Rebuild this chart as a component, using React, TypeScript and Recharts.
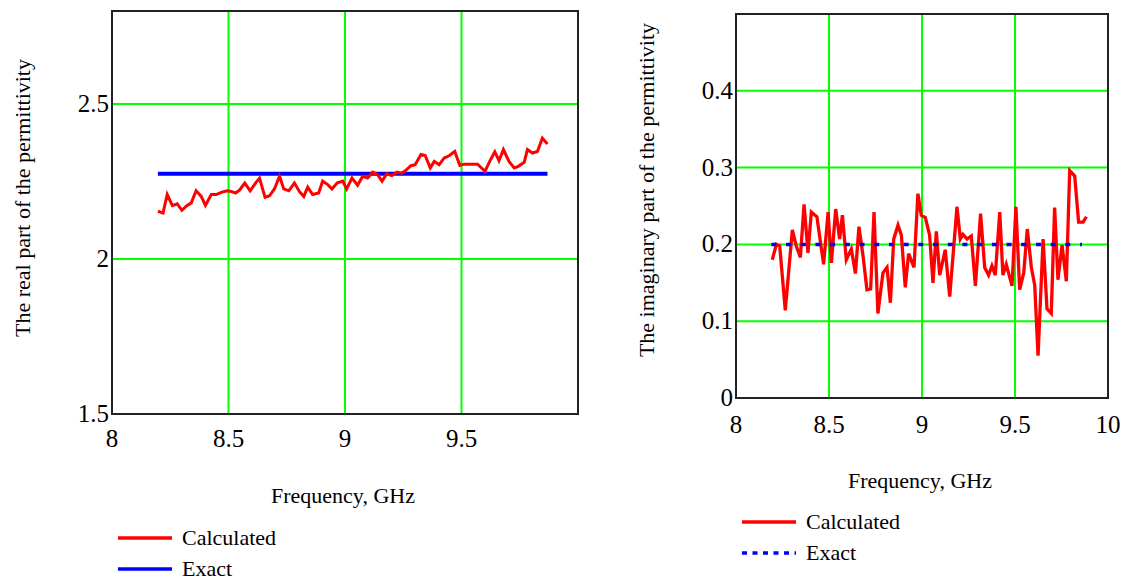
import { LineChart, Line, XAxis, YAxis, CartesianGrid, ReferenceArea, Label } from "recharts"

const serif = "'Liberation Serif', 'Times New Roman', serif"

// real part
const realFreq = [
  8.197, 8.219, 8.237, 8.259, 8.28, 8.3, 8.321, 8.34, 8.361, 8.383, 8.401, 8.426, 8.447, 8.469, 8.493, 8.511,
  8.53, 8.547, 8.57, 8.593, 8.616, 8.633, 8.657, 8.676, 8.697, 8.719, 8.737, 8.759, 8.783, 8.804, 8.823, 8.84,
  8.861, 8.887, 8.904, 8.926, 8.944, 8.966, 8.99, 9.007, 9.03, 9.054, 9.076, 9.097, 9.119, 9.14, 9.159, 9.179,
  9.201, 9.223, 9.244, 9.261, 9.283, 9.301, 9.326, 9.344, 9.366, 9.383, 9.404, 9.426, 9.447, 9.471, 9.493,
  9.511, 9.54, 9.569, 9.601, 9.621, 9.643, 9.661, 9.68, 9.704, 9.726, 9.744, 9.769, 9.783, 9.804, 9.826, 9.847,
  9.869,
]
const realCalc = [
  2.154, 2.148, 2.208, 2.172, 2.178, 2.157, 2.172, 2.181, 2.22, 2.202, 2.173, 2.208, 2.208, 2.215, 2.22, 2.218,
  2.213, 2.222, 2.245, 2.22, 2.245, 2.261, 2.199, 2.204, 2.226, 2.267, 2.226, 2.22, 2.245, 2.218, 2.202, 2.232,
  2.208, 2.213, 2.251, 2.24, 2.226, 2.245, 2.251, 2.226, 2.261, 2.238, 2.267, 2.261, 2.28, 2.272, 2.251, 2.275,
  2.269, 2.28, 2.277, 2.286, 2.301, 2.304, 2.337, 2.334, 2.294, 2.315, 2.304, 2.326, 2.333, 2.347, 2.302,
  2.306, 2.306, 2.306, 2.283, 2.315, 2.346, 2.317, 2.353, 2.315, 2.294, 2.299, 2.312, 2.353, 2.342, 2.347, 2.39,
  2.371,
]
const realExactFreq = [8.197, 9.869]
const realExact = [2.275, 2.275]

// imaginary part
const imagFreq = [
  8.195, 8.217, 8.235, 8.265, 8.303, 8.324, 8.346, 8.366, 8.387, 8.405, 8.435, 8.471, 8.495, 8.513, 8.536,
  8.557, 8.572, 8.593, 8.62, 8.642, 8.661, 8.683, 8.704, 8.724, 8.742, 8.763, 8.79, 8.812, 8.83, 8.848, 8.871,
  8.889, 8.91, 8.928, 8.957, 8.978, 8.996, 9.018, 9.041, 9.059, 9.077, 9.095, 9.125, 9.149, 9.188, 9.206, 9.22,
  9.242, 9.265, 9.287, 9.315, 9.337, 9.358, 9.376, 9.394, 9.418, 9.435, 9.453, 9.484, 9.505, 9.525, 9.547,
  9.566, 9.588, 9.606, 9.624, 9.651, 9.672, 9.695, 9.713, 9.731, 9.753, 9.776, 9.794, 9.821, 9.842, 9.866,
  9.884,
]
const imagCalc = [
  0.18, 0.2, 0.198, 0.114, 0.219, 0.198, 0.183, 0.252, 0.189, 0.242, 0.236, 0.174, 0.242, 0.176, 0.246, 0.207,
  0.238, 0.18, 0.194, 0.162, 0.223, 0.185, 0.141, 0.142, 0.242, 0.11, 0.163, 0.17, 0.124, 0.207, 0.225, 0.212,
  0.144, 0.188, 0.17, 0.266, 0.238, 0.235, 0.212, 0.15, 0.217, 0.16, 0.193, 0.132, 0.249, 0.207, 0.213, 0.207,
  0.211, 0.146, 0.24, 0.17, 0.16, 0.172, 0.16, 0.242, 0.16, 0.174, 0.146, 0.249, 0.141, 0.163, 0.22, 0.17,
  0.147, 0.055, 0.207, 0.116, 0.11, 0.248, 0.154, 0.199, 0.152, 0.296, 0.289, 0.229, 0.229, 0.236,
]
const imagExactFreq = [8.19, 9.86]
const imagExact = [0.2, 0.2]

const realTicksX = [8, 8.5, 9, 9.5]
const realTicksY = [1.5, 2, 2.5]
const imagTicksX = [8, 8.5, 9, 9.5, 10]
const imagTicksY = [0, 0.1, 0.2, 0.3, 0.4]

const toPoints = (xs: number[], ys: number[]) => xs.map((f, i) => ({ f, v: ys[i] }))

// tick text drawn by hand so the serif font and size stick
const xTick = (props: any) => (
  <text
    key={props.index}
    x={props.x}
    y={props.y}
    dy={20}
    textAnchor="middle"
    fontFamily={serif}
    fontSize={25}
    fill="#000"
  >
    {props.payload.value}
  </text>
)

const yTick = (props: any) => (
  <text
    key={props.index}
    x={props.x}
    y={props.y}
    dy={8}
    textAnchor="end"
    fontFamily={serif}
    fontSize={25}
    fill="#000"
  >
    {props.payload.value}
  </text>
)

function AxisTitle({ x, y, text, rotate }: { x: number; y: number; text: string; rotate?: boolean }) {
  return (
    <text
      x={x}
      y={y}
      textAnchor="middle"
      dominantBaseline="central"
      transform={rotate ? `rotate(-90 ${x} ${y})` : undefined}
      style={{ fontFamily: serif, fontSize: 22, fill: "#000" }}
    >
      {text}
    </text>
  )
}

function LegendRow({ left, top, color, dashed, text }: { left: number; top: number; color: string; dashed?: boolean; text: string }) {
  return (
    <div style={{ position: "absolute", left, top, display: "flex", alignItems: "center", height: 24 }}>
      <svg width={56} height={8} style={{ marginRight: 9 }}>
        <line x1={1} y1={4} x2={55} y2={4} stroke={color} strokeWidth={3.5} strokeDasharray={dashed ? "5 5.5" : undefined} />
      </svg>
      <span style={{ fontFamily: serif, fontSize: 22, color: "#000", whiteSpace: "nowrap" }}>{text}</span>
    </div>
  )
}

export default function App() {
  return (
    <div style={{ position: "absolute", left: 0, top: 0, width: 1133, height: 581, background: "#fff", fontFamily: serif }}>
      {/* Real part */}
      <div style={{ position: "absolute", left: 0, top: 0 }}>
        <LineChart width={600} height={520} margin={{ top: 11, right: 22, bottom: 0, left: 0 }}>
          <CartesianGrid stroke="#00ff00" strokeWidth={2} />
          <XAxis
            type="number"
            dataKey="f"
            domain={[8, 10]}
            ticks={realTicksX}
            tick={xTick}
            tickLine={false}
            axisLine={false}
            tickSize={0}
            tickMargin={13}
            height={106}
            allowDataOverflow
          >
            <Label content={() => <AxisTitle x={343} y={495} text="Frequency, GHz" />} />
          </XAxis>
          <YAxis
            type="number"
            domain={[1.5, 2.8]}
            ticks={realTicksY}
            tick={yTick}
            tickLine={false}
            axisLine={false}
            tickSize={0}
            tickMargin={3}
            width={112}
            allowDataOverflow
          >
            <Label content={() => <AxisTitle x={22} y={198} text="The real part of the permittivity" rotate />} />
          </YAxis>
          <Line data={toPoints(realExactFreq, realExact)} dataKey="v" stroke="#0000ff" strokeWidth={4} dot={false} isAnimationActive={false} />
          <Line data={toPoints(realFreq, realCalc)} dataKey="v" stroke="#ff0000" strokeWidth={3} dot={false} isAnimationActive={false} />
          <ReferenceArea x1={8} x2={10} y1={1.5} y2={2.8} fill="none" stroke="#222" strokeWidth={2} ifOverflow="visible" />
        </LineChart>
      </div>

      {/* Imaginary part */}
      <div style={{ position: "absolute", left: 620, top: 0 }}>
        <LineChart width={520} height={500} margin={{ top: 14, right: 32, bottom: 0, left: 0 }}>
          <CartesianGrid stroke="#00ff00" strokeWidth={2} />
          <XAxis
            type="number"
            dataKey="f"
            domain={[8, 10]}
            ticks={imagTicksX}
            tick={xTick}
            tickLine={false}
            axisLine={false}
            tickSize={0}
            tickMargin={15}
            height={102}
            allowDataOverflow
          >
            <Label content={() => <AxisTitle x={300} y={480} text="Frequency, GHz" />} />
          </XAxis>
          <YAxis
            type="number"
            domain={[0, 0.5]}
            ticks={imagTicksY}
            tick={yTick}
            tickLine={false}
            axisLine={false}
            tickSize={0}
            tickMargin={3}
            width={116}
            allowDataOverflow
          >
            <Label content={() => <AxisTitle x={26} y={190} text="The imaginary part of the permittivity" rotate />} />
          </YAxis>
          <Line data={toPoints(imagFreq, imagCalc)} dataKey="v" stroke="#ff0000" strokeWidth={3.3} dot={false} isAnimationActive={false} />
          <Line
            data={toPoints(imagExactFreq, imagExact)}
            dataKey="v"
            stroke="#0000ff"
            strokeWidth={3.5}
            strokeDasharray="5 9.7"
            dot={false}
            isAnimationActive={false}
          />
          <ReferenceArea x1={8} x2={10} y1={0} y2={0.5} fill="none" stroke="#222" strokeWidth={2} ifOverflow="visible" />
        </LineChart>
      </div>

      <LegendRow left={117} top={526} color="#ff0000" text="Calculated" />
      <LegendRow left={117} top={557} color="#0000ff" text="Exact" />
      <LegendRow left={741} top={510} color="#ff0000" text="Calculated" />
      <LegendRow left={741} top={541} color="#0000ff" dashed text="Exact" />
    </div>
  )
}
